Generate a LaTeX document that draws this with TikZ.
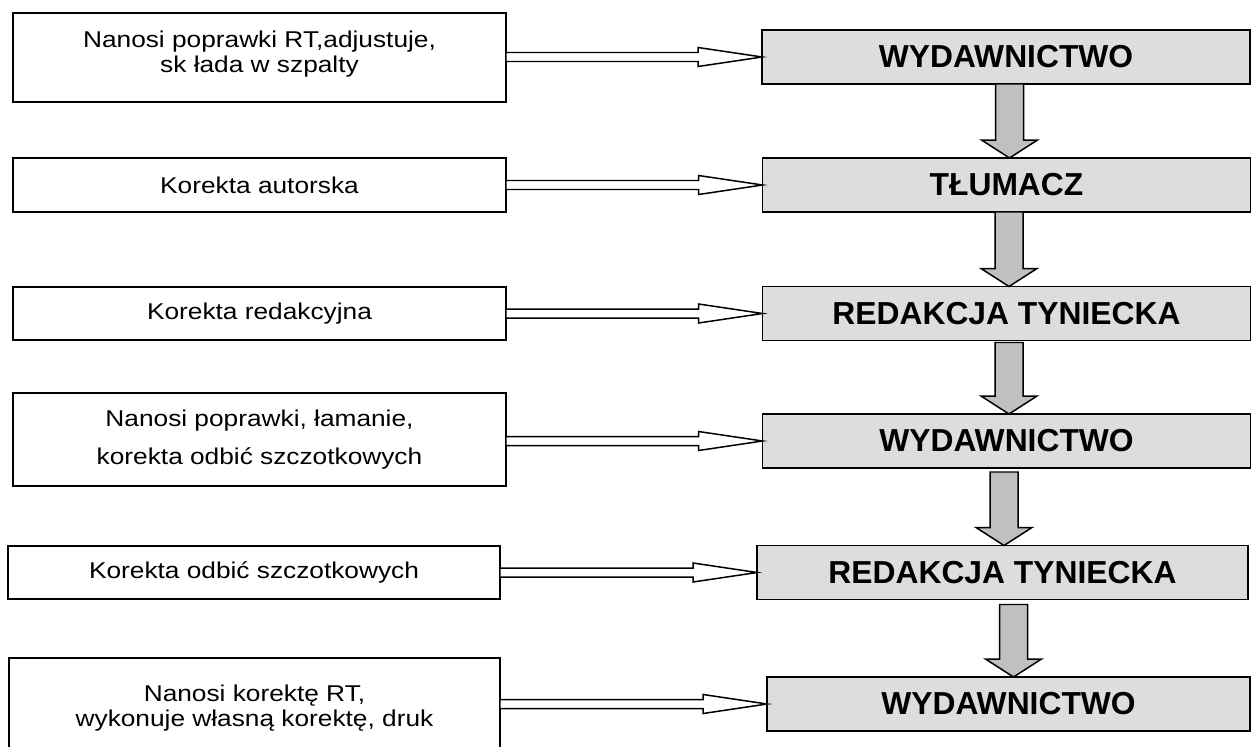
\documentclass[tikz,border=0pt]{standalone}
\usepackage{fontspec}
\setmainfont{Liberation Sans}
\newfontfamily\widesans[FakeStretch=1.15]{Liberation Sans}
\usetikzlibrary{calc}
\definecolor{boxgray}{RGB}{221,221,221}
\definecolor{arrowgray}{RGB}{192,192,192}

\begin{document}
\begin{tikzpicture}[x=0.02cm,y=-0.02cm,line width=0.85pt,
	task/.style={draw,fill=white,align=center,inner sep=0,outer sep=0,minimum width=9.86cm,font=\widesans\fontsize{13}{14.5}\selectfont},
	unit/.style={draw,fill=boxgray,inner sep=0,outer sep=0,minimum width=9.76cm,minimum height=1.08cm,font=\bfseries\fontsize{18.1}{21}\selectfont},
	harrow/.style={draw,fill=white},
	varrow/.style={draw,fill=arrowgray}]
\path[use as bounding box] (0,0) rectangle (1251,747);
\clip (0,0) rectangle (1251,747);
% co sie robi
\node[task,minimum height=1.78cm,text depth=6.5pt] (l1) at (259.5,57.5) {Nanosi poprawki RT,adjustuje,\\sk łada w szpalty};
\node[task,minimum height=1.08cm] (l2) at (259.5,185) {Korekta autorska};
\node[task,minimum height=1.06cm] (l3) at (259.5,313.5) {Korekta redakcyjna};
\node[task,minimum height=1.86cm] (l4) at (259.5,439.5) {Nanosi poprawki, łamanie,\\[0.25cm]korekta odbić szczotkowych};
\node[task,minimum width=9.84cm,minimum height=1.06cm] (l5) at (254,572.5) {Korekta odbić szczotkowych};
\node[task,minimum width=9.82cm,minimum height=2cm] (l6) at (254.5,708) {Nanosi korektę RT,\\wykonuje własną korektę, druk};
% kto to robi
\node[unit] (r1) at (1006,57) {WYDAWNICTWO};
\node[unit] (r2) at (1006.5,185) {TŁUMACZ};
\node[unit] (r3) at (1006.5,313.5) {REDAKCJA TYNIECKA};
\node[unit] (r4) at (1006.5,441) {WYDAWNICTWO};
\node[unit,minimum width=9.82cm] (r5) at (1002.5,572.5) {REDAKCJA TYNIECKA};
\node[unit,minimum width=9.66cm] (r6) at (1008.5,704) {WYDAWNICTWO};
% strzalki
\foreach \a/\b in {l1/r1,l2/r2,l3/r3,l4/r4,l5/r5,l6/r6}
	\draw[harrow] ($(\a.east |- \b.west)+(0,-4.5)$) -- ($(\b.west)+(-64,-4.5)$) -- ($(\b.west)+(-64,-9.5)$) -- (\b.west) -- ($(\b.west)+(-64,9.5)$) -- ($(\b.west)+(-64,4.5)$) -- ($(\a.east |- \b.west)+(0,4.5)$) -- cycle;
\foreach \a/\b/\x/\g in {r1/r2/1009.5/0,r2/r3/1009/0,r3/r4/1009/2,r4/r5/1004/4,r5/r6/1013.5/5}
	\draw[varrow] ($(\a.south -| \x,0)+(-14,\g)$) -- ($(\b.north -| \x,0)+(-14,-18)$) -- ($(\b.north -| \x,0)+(-28,-18)$) -- (\b.north -| \x,0) -- ($(\b.north -| \x,0)+(28,-18)$) -- ($(\b.north -| \x,0)+(14,-18)$) -- ($(\a.south -| \x,0)+(14,\g)$) -- cycle;
\end{tikzpicture}
\end{document}
